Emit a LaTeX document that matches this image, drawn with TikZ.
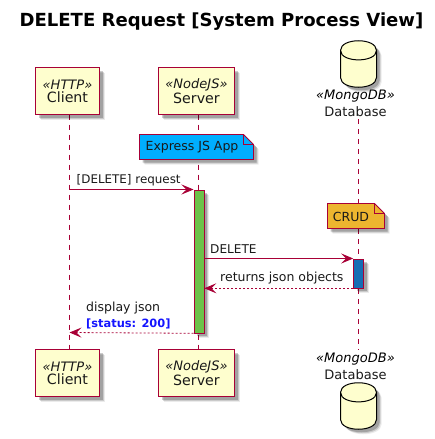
\documentclass[tikz,border=0pt]{standalone}
\usepackage{fontspec}
\setmainfont{DejaVu Sans}
\usetikzlibrary{arrows.meta,shadows,shapes.geometric,calc}
\definecolor{pumlred}{HTML}{A80036}
\definecolor{pumlfill}{HTML}{FEFECE}
\definecolor{notebl}{HTML}{00AEFF}
\definecolor{noteor}{HTML}{EDB52F}
\definecolor{actgr}{HTML}{6CC24A}
\definecolor{actbl}{HTML}{146EB4}
\tikzset{
  softshadow/.style={general shadow={shadow xshift=5pt,shadow yshift=-5pt,fill=black,opacity=.08},
    general shadow={shadow xshift=4pt,shadow yshift=-4pt,fill=black,opacity=.14},
    general shadow={shadow xshift=3pt,shadow yshift=-3pt,fill=black,opacity=.2}},
  actor/.style={draw=pumlred,line width=1.1pt,fill=pumlfill,softshadow,rectangle,inner sep=0pt,minimum height=47pt,align=center,text=black!90},
  life/.style={draw=pumlred,line width=.7pt,dash pattern=on 5pt off 5pt},
  activ/.style={draw=pumlred,line width=.8pt,softshadow,rectangle,inner sep=0pt,anchor=north west},
  msg/.style={draw=pumlred,line width=.8pt,-{Stealth[length=12pt,width=10pt,inset=5pt,fill=pumlred]}},
  rmsg/.style={msg,dash pattern=on 2pt off 2pt},
  lbl/.style={inner sep=0pt,font=\fontsize{12.5}{14}\selectfont,text=black!90},
  nt/.style={draw=pumlred,line width=.8pt,softshadow},
  cyl/.style={draw=black,line width=1pt,fill=pumlfill,softshadow},
  ster/.style={inner sep=0pt,font=\fontsize{13}{14}\selectfont\itshape},
  nm/.style={inner sep=0pt,font=\fontsize{13}{15}\selectfont,text=black!90}
}
\newcommand{\actlabel}[2]{{\fontsize{13}{16}\selectfont\itshape «#1»}\\[1pt]{\fontsize{14.2}{15}\selectfont #2}}
\newcommand{\dbcyl}[1]{\path[cyl] (340.5,#1+9.5) .. controls (340.5,#1-3.5) and (376.5,#1-3.5) .. (376.5,#1+9.5) -- (376.5,#1+36.5) .. controls (376.5,#1+49.5) and (340.5,#1+49.5) .. (340.5,#1+36.5) -- cycle;
  \draw[draw=black,line width=1pt] (340.5,#1+9.5) .. controls (340.5,#1+22) and (376.5,#1+22) .. (376.5,#1+9.5);}
\newcommand{\notebox}[5]{% x1,y1,x2,y2,color
  \path[nt,fill=#5] (#1,#2) -- (#3-10,#2) -- (#3,#2+10) -- (#3,#4) -- (#1,#4) -- cycle;
  \draw[pumlred,line width=.8pt] (#3-10,#2) -- (#3-10,#2+10) -- (#3,#2+10);}
\begin{document}
\begin{tikzpicture}[x=1pt,y=-1pt]
\useasboundingbox (0,0) rectangle (435,439);
\node[inner sep=0pt,font=\fontsize{18.05}{20}\selectfont\bfseries] (title) at (221.5,22) {DELETE Request [System Process View]};

% lifeline ends
\coordinate (ct) at (69.5,114.5); \coordinate (cb) at (69.5,349.5);
\coordinate (st) at (198,114.5); \coordinate (sb) at (198,349.5);
\coordinate (dt) at (358.5,119); \coordinate (db) at (358.5,350);
\draw[life] (ct) -- (cb);
\draw[life] (st) -- (sb);
\draw[life] (dt) -- (db);

% actors top and bottom
\node[actor,minimum width=64pt] (clientT) at (67.5,91) {\actlabel{HTTP}{Client}};
\node[actor,minimum width=76pt] (serverT) at (196.5,91) {\actlabel{NodeJS}{Server}};
\node[actor,minimum width=64pt] (clientB) at (67.5,373) {\actlabel{HTTP}{Client}};
\node[actor,minimum width=76pt] (serverB) at (196.5,373) {\actlabel{NodeJS}{Server}};

% database
\dbcyl{41}
\dbcyl{383}
\node[ster] (dbsT) at (355.5,96.5) {«MongoDB»};
\node[nm] (dbnT) at (355.5,112) {Database};
\node[ster] (dbsB) at (355.5,359.5) {«MongoDB»};
\node[nm] (dbnB) at (355.5,375) {Database};

% notes
\notebox{139.5}{134.5}{253.5}{159.5}{notebl}
\node[lbl] (n1) at (192,147.5) {Express JS App};
\notebox{327.5}{203.5}{384.5}{228.5}{noteor}
\node[lbl] (n2) at (351,216.5) {CRUD};

% activations
\node[activ,fill=actgr,minimum width=10pt,minimum height=143pt] (as) at (193.5,189.5) {};
\node[activ,fill=actbl,minimum width=10pt,minimum height=29pt] (ad) at (353.2,258.5) {};

% messages
\coordinate (m1s) at (69.5,189.5);
\draw[msg] (m1s) -- (as.north west);
\node[lbl,anchor=west,font=\fontsize{11.9}{14}\selectfont] (l1) at (76.5,180) {[DELETE] request};
\draw[msg] (as.east |- ad.north) -- (ad.north west);
\node[lbl,anchor=west,font=\fontsize{12.1}{14}\selectfont] (l2) at (210,249.5) {DELETE};
\draw[rmsg] (ad.south west) -- (as.east |- ad.south);
\node[lbl,anchor=west] (l3) at (220,278.5) {returns json objects};
\coordinate (m4e) at (69.5,332.5);
\draw[rmsg] (as.south west) -- (m4e);
\node[lbl,anchor=west] (l4) at (86,308.5) {display json};
\node[lbl,anchor=west,font=\fontsize{11.4}{14}\selectfont\bfseries,text={rgb,255:red,20;green,20;blue,255}] (l5) at (86,323.5) {[status: 200]};
\end{tikzpicture}
\end{document}
